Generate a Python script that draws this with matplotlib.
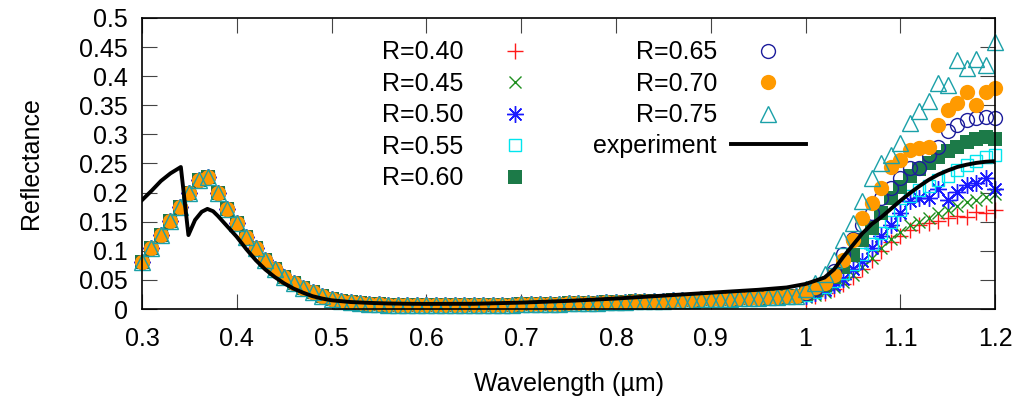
#!/usr/bin/env python3
"""Simulated vs. measured reflectance spectra for several R values."""
import matplotlib
matplotlib.use("Agg")
import matplotlib.pyplot as plt
import numpy as np
from matplotlib.ticker import FormatStrFormatter, MultipleLocator

plt.rcParams["font.family"] = ["Liberation Sans", "DejaVu Sans"]
plt.rcParams["font.size"] = 18

# wavelength grid of the simulations (um)
wl = np.round(np.arange(30, 121) / 100, 2)

# 0.30 .. 0.99: all simulated curves overlap
sim_common = [
    0.080, 0.104, 0.127, 0.152, 0.176, 0.199, 0.222, 0.227, 0.199, 0.171,
    0.147, 0.124, 0.104, 0.085, 0.068, 0.055, 0.045, 0.036, 0.029, 0.023,
    0.018, 0.014, 0.012, 0.010, 0.009, 0.008, 0.0075, 0.007, 0.007, 0.0065,
    0.0065, 0.0065, 0.0065, 0.0065, 0.0065, 0.0068, 0.007, 0.007, 0.0072, 0.0075,
    0.0078, 0.008, 0.0085, 0.009, 0.0093, 0.0097, 0.010, 0.0105, 0.011, 0.0115,
    0.012, 0.0125, 0.013, 0.0135, 0.014, 0.0145, 0.015, 0.0155, 0.016, 0.0165,
    0.017, 0.0175, 0.018, 0.0185, 0.019, 0.0195, 0.020, 0.021, 0.022, 0.023,
]

# 1.00 .. 1.20 tails, one per R
tail_040 = [0.018, 0.022, 0.027, 0.034, 0.043, 0.055, 0.068, 0.085, 0.100, 0.115, 0.125,
            0.135, 0.144, 0.148, 0.152, 0.156, 0.160, 0.158, 0.167, 0.165, 0.170]
tail_045 = [0.020, 0.024, 0.030, 0.037, 0.047, 0.058, 0.072, 0.088, 0.105, 0.120, 0.133,
            0.144, 0.150, 0.156, 0.165, 0.170, 0.177, 0.184, 0.187, 0.193, 0.197]
tail_050 = [0.022, 0.027, 0.033, 0.042, 0.052, 0.068, 0.082, 0.105, 0.125, 0.145, 0.165,
            0.185, 0.190, 0.190, 0.207, 0.187, 0.201, 0.213, 0.216, 0.225, 0.207]
tail_055 = [0.024, 0.030, 0.038, 0.048, 0.062, 0.078, 0.095, 0.112, 0.130, 0.150, 0.170,
            0.195, 0.205, 0.212, 0.222, 0.228, 0.238, 0.248, 0.255, 0.262, 0.265]
tail_060 = [0.025, 0.032, 0.042, 0.055, 0.072, 0.092, 0.118, 0.140, 0.165, 0.190, 0.210,
            0.228, 0.240, 0.250, 0.262, 0.272, 0.279, 0.287, 0.292, 0.296, 0.292]
tail_065 = [0.028, 0.035, 0.045, 0.065, 0.095, 0.120, 0.145, 0.165, 0.190, 0.208, 0.225,
            0.242, 0.242, 0.265, 0.279, 0.305, 0.316, 0.325, 0.328, 0.330, 0.328]
tail_070 = [0.030, 0.038, 0.045, 0.058, 0.084, 0.118, 0.156, 0.182, 0.208, 0.244, 0.256,
            0.273, 0.276, 0.279, 0.316, 0.342, 0.354, 0.373, 0.351, 0.373, 0.380]
tail_075 = [0.035, 0.045, 0.060, 0.085, 0.118, 0.148, 0.185, 0.225, 0.250, 0.265, 0.285,
            0.320, 0.340, 0.358, 0.388, 0.385, 0.428, 0.414, 0.430, 0.420, 0.458]

# measured spectrum
exp_wl = [0.300, 0.310, 0.320, 0.330, 0.341, 0.349, 0.356, 0.363, 0.369, 0.375,
          0.380, 0.390, 0.400, 0.410, 0.420, 0.430, 0.440, 0.450, 0.460, 0.470,
          0.480, 0.490, 0.500, 0.520, 0.540, 0.560, 0.580, 0.600, 0.650, 0.700,
          0.750, 0.800, 0.850, 0.900, 0.950, 0.980, 1.000, 1.020, 1.030, 1.040,
          1.050, 1.060, 1.070, 1.080, 1.090, 1.100, 1.110, 1.120, 1.130, 1.140,
          1.150, 1.160, 1.170, 1.180, 1.190, 1.200]
exp_refl = [0.187, 0.203, 0.220, 0.233, 0.244, 0.127, 0.153, 0.167, 0.172, 0.168,
            0.160, 0.142, 0.124, 0.103, 0.084, 0.068, 0.055, 0.044, 0.035, 0.028,
            0.022, 0.018, 0.015, 0.012, 0.0105, 0.0095, 0.009, 0.0088, 0.009, 0.011,
            0.014, 0.018, 0.023, 0.028, 0.033, 0.037, 0.043, 0.054, 0.068, 0.090,
            0.110, 0.130, 0.146, 0.158, 0.172, 0.186, 0.199, 0.211, 0.222, 0.231,
            0.238, 0.244, 0.248, 0.251, 0.253, 0.254]

labels = ["R=0.40", "R=0.45", "R=0.50", "R=0.55", "R=0.60", "R=0.65", "R=0.70", "R=0.75"]
tails = [tail_040, tail_045, tail_050, tail_055, tail_060, tail_065, tail_070, tail_075]

styles = [
    dict(marker="+", color="#ff1a1a", ms=11, mew=1.0, mfc="none"),
    dict(marker="x", color="#1f8f1f", ms=9, mew=1.0, mfc="none"),
    dict(marker=(8, 2, 0), color="#1a1aff", ms=12, mew=1.0, mfc="none"),
    dict(marker="s", color="#00e5ee", ms=8.5, mew=1.0, mfc="none"),
    dict(marker="s", color="#1c7a48", ms=10, mew=0.0, mfc="#1c7a48"),
    dict(marker="o", color="#1c1c9c", ms=10, mew=1.0, mfc="none"),
    dict(marker="o", color="#ff9a00", ms=11, mew=0.0, mfc="#ff9a00"),
    dict(marker="^", color="#1aa0a8", ms=12, mew=1.0, mfc="none"),
]

fig = plt.figure(figsize=(10.17, 4.05), dpi=100)
ax = fig.add_axes([0.1396, 0.237, 0.8389, 0.7186])

handles = []
for lab, tail, st in zip(labels, tails, styles):
    h, = ax.plot(wl, sim_common + tail, linestyle="none", label=lab,
                 clip_on=False, **st)
    handles.append(h)

h_exp, = ax.plot(exp_wl, exp_refl, color="black", lw=2.8, label="experiment")

ax.set_xlim(0.3, 1.2)
ax.set_ylim(0, 0.5)
ax.xaxis.set_major_locator(MultipleLocator(0.1))
ax.yaxis.set_major_locator(MultipleLocator(0.05))
ax.xaxis.set_major_formatter(FormatStrFormatter("%g"))
ax.yaxis.set_major_formatter(FormatStrFormatter("%g"))
ax.tick_params(direction="in", length=10.5, width=0.8, color="#444444",
               top=True, right=True, labelsize=18)
ax.tick_params(axis="x", pad=13)
ax.tick_params(axis="y", pad=10)
for sp in ax.spines.values():
    sp.set_linewidth(1.2)
    sp.set_zorder(5)

ax.set_xlabel("Wavelength (µm)", labelpad=15)
ax.set_ylabel("Reflectance", labelpad=26)

# gnuplot-style key: text then sample, two columns
leg_kw = dict(frameon=False, markerfirst=False, fontsize=18, handlelength=3.0,
              handletextpad=0.55, labelspacing=0.30, borderpad=0.0,
              borderaxespad=0.0, numpoints=1)
leg1 = ax.legend(handles=handles[:5], loc="upper right",
                 bbox_to_anchor=(0.481, 0.923), **leg_kw)
ax.add_artist(leg1)
leg2 = ax.legend(handles=handles[5:], loc="upper right",
                 bbox_to_anchor=(0.778, 0.923), **leg_kw)
ax.add_artist(leg2)
ax.legend(handles=[h_exp], loc="upper right",
          bbox_to_anchor=(0.778, 0.603), **leg_kw)

fig.savefig("out.png", dpi=100)
